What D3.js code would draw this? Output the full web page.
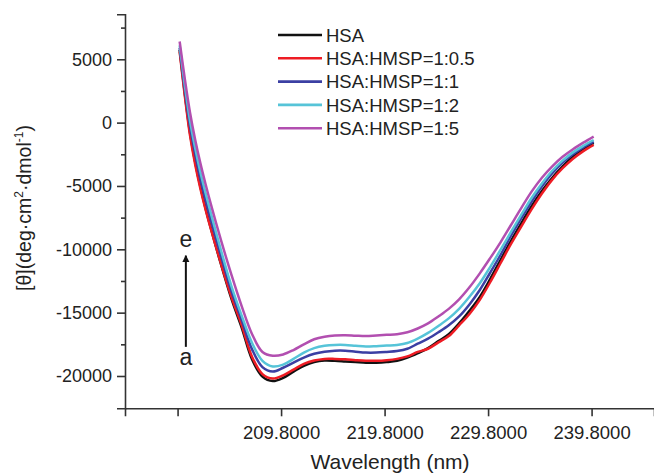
<!DOCTYPE html>
<html>
<head>
<meta charset="utf-8">
<script src="https://cdn.jsdelivr.net/npm/d3@7/dist/d3.min.js"></script>
<style>
  body { margin: 0; background: #fff; }
  svg text { font-family: "Liberation Sans", Arial, sans-serif; fill: #222; }
</style>
</head>
<body>
<div id="chart"></div>
<script>
// wavelength grid (nm)
const wavelengths = [200, 200.5, 201, 201.5, 202, 202.5, 203, 204, 205, 206, 207, 208, 209, 210,
  211, 212, 213, 214, 215, 216, 217, 218, 219, 220, 221, 222, 223, 224, 225, 226, 227, 228,
  229, 230, 231, 232, 233, 234, 235, 236, 237, 238, 239, 240]

// ellipticity values
const hsa = [5750, 2300, -800, -3100, -5050, -6750, -8300, -11200, -13900, -16200, -18700, -20050, -20400, -20150,
  -19650, -19200, -18900, -18780, -18800, -18850, -18900, -18950, -18950, -18900, -18800, -18550, -18200, -17800, -17250, -16700, -15850, -14850,
  -13750, -12350, -10850, -9350, -7950, -6600, -5400, -4350, -3450, -2700, -2100, -1600]
const ratio05 = [5600, 2100, -1000, -3300, -5200, -6850, -8350, -11150, -13750, -16000, -18500, -19850, -20200, -19950,
  -19500, -19050, -18780, -18650, -18650, -18680, -18750, -18800, -18800, -18750, -18650, -18450, -18100, -17850, -17350, -16850, -16000, -15100,
  -13990, -12600, -11100, -9600, -8210, -6850, -5600, -4500, -3600, -2850, -2250, -1760]
const ratio1 = [5900, 2600, -300, -2500, -4450, -6100, -7650, -10550, -13300, -15600, -17900, -19300, -19650, -19350,
  -18950, -18550, -18250, -18080, -18000, -18000, -18080, -18150, -18150, -18100, -18030, -17850, -17450, -17050, -16550, -16000, -15300, -14350,
  -13210, -11850, -10450, -8950, -7550, -6250, -5050, -4000, -3150, -2500, -1950, -1500]
const ratio2 = [6100, 2950, 150, -2000, -3900, -5550, -7100, -10100, -12900, -15250, -17400, -18800, -19250, -19100,
  -18650, -18150, -17800, -17620, -17550, -17550, -17620, -17680, -17650, -17600, -17550, -17400, -17050, -16600, -16050, -15450, -14700, -13750,
  -12680, -11400, -10050, -8650, -7290, -5950, -4800, -3800, -3000, -2350, -1830, -1370]
const ratio5 = [6400, 3450, 800, -1350, -3200, -4850, -6400, -9300, -12000, -14500, -16700, -18100, -18400, -18300,
  -17950, -17500, -17100, -16900, -16800, -16780, -16820, -16850, -16800, -16750, -16700, -16550, -16250, -15850, -15300, -14700, -13950, -13000,
  -11900, -10700, -9450, -8100, -6750, -5450, -4350, -3450, -2700, -2100, -1580, -1100]

const seriesNames = ['HSA', 'HSA:HMSP=1:0.5', 'HSA:HMSP=1:1', 'HSA:HMSP=1:2', 'HSA:HMSP=1:5']
const seriesValues = [hsa, ratio05, ratio1, ratio2, ratio5]
const colors = ['#111111', '#ee1c24', '#3b3fa3', '#56c4d8', '#b24fb0']

const xTicks = [199.8, 209.8, 219.8, 229.8, 239.8]
const yTicks = [-20000, -15000, -10000, -5000, 0, 5000]
const yMinorTicks = [-17500, -12500, -7500, -2500, 2500, 7500]

// arrow a -> e : [wavelength, start value, end value]
const arrowAt = [200.6, -17700, -10500]

const width = 654
const height = 475

const svg = d3.select('#chart').append('svg')
  .attr('width', width)
  .attr('height', height)

const x = d3.scaleLinear()
  .domain([194.72, 245.83])
  .range([125, 654])

const y = d3.scaleLinear()
  .domain([-22550, 8550])
  .range([408.3, 14.3])

// Axes
const xAxis = d3.axisBottom(x)
  .tickValues(xTicks)
  .tickSize(8)
  .tickPadding(6)
  .tickFormat((d, i) => i === 0 ? '' : d.toFixed(4))

const yAxis = d3.axisLeft(y)
  .tickValues(yTicks)
  .tickSize(8)
  .tickPadding(5)
  .tickFormat(d => String(d))

const gx = svg.append('g')
  .attr('transform', `translate(0, ${y.range()[0]})`)
  .call(xAxis)

const gy = svg.append('g')
  .attr('transform', `translate(${x.range()[0]}, 0)`)
  .call(yAxis)

svg.append('g')
  .attr('transform', `translate(${x.range()[0]}, 0)`)
  .call(d3.axisLeft(y).tickValues(yMinorTicks).tickSize(4).tickFormat(''))
  .call(g => g.select('.domain').remove())

svg.selectAll('.domain, .tick line')
  .attr('stroke', '#333')
  .attr('stroke-width', 1.6)

gx.selectAll('.tick text')
  .attr('font-size', '18.5px')
  .attr('dy', '0.9em')
  .style('fill', '#222')
gy.selectAll('.tick text')
  .attr('font-size', '18px')
  .style('fill', '#222')

// Axis titles
svg.append('text')
  .attr('x', 390)
  .attr('y', 469)
  .attr('text-anchor', 'middle')
  .attr('font-size', '21px')
  .text('Wavelength (nm)')

const yTitle = svg.append('text')
  .attr('transform', 'translate(31, 208) rotate(-90)')
  .attr('text-anchor', 'middle')
  .attr('font-size', '19.5px')
yTitle.append('tspan').text('[θ](deg·cm')
yTitle.append('tspan').attr('font-size', '12px').attr('dy', -8).text('2')
yTitle.append('tspan').attr('dy', 8).text('·dmol')
yTitle.append('tspan').attr('font-size', '12px').attr('dy', -8).text('-1')
yTitle.append('tspan').attr('dy', 8).text(')')

// Curves
const line = d3.line()
  .x((d, i) => x(wavelengths[i]))
  .y(d => y(d))
  .curve(d3.curveCatmullRom.alpha(0.5))

svg.append('g')
  .selectAll('path')
  .data(seriesValues)
  .join('path')
    .attr('d', line)
    .attr('fill', 'none')
    .attr('stroke', (d, i) => colors[i])
    .attr('stroke-width', 2.5)
    .attr('stroke-linejoin', 'round')

// Arrow annotation
svg.append('defs').append('marker')
    .attr('id', 'head')
    .attr('viewBox', '0 0 10 10')
    .attr('refX', 9)
    .attr('refY', 5)
    .attr('markerWidth', 3.5)
    .attr('markerHeight', 5)
    .attr('orient', 'auto')
  .append('path')
    .attr('d', 'M0,0 L10,5 L0,10 z')
    .attr('fill', '#111')

svg.append('line')
  .attr('x1', x(arrowAt[0]))
  .attr('x2', x(arrowAt[0]))
  .attr('y1', y(arrowAt[1]))
  .attr('y2', y(arrowAt[2]))
  .attr('stroke', '#111')
  .attr('stroke-width', 2)
  .attr('marker-end', 'url(#head)')

svg.append('text')
  .attr('x', x(arrowAt[0]))
  .attr('y', 247)
  .attr('text-anchor', 'middle')
  .attr('font-size', '23px')
  .text('e')

svg.append('text')
  .attr('x', x(arrowAt[0]))
  .attr('y', 365)
  .attr('text-anchor', 'middle')
  .attr('font-size', '23px')
  .text('a')

// Legend
const legend = svg.append('g')
  .attr('transform', 'translate(278, 35)')

const rows = legend.selectAll('g')
  .data(seriesNames)
  .join('g')
    .attr('transform', (d, i) => `translate(0, ${i * 23.3})`)

rows.append('line')
  .attr('x1', 0)
  .attr('x2', 44)
  .attr('stroke', (d, i) => colors[i])
  .attr('stroke-width', 2.6)

rows.append('text')
  .attr('x', 48)
  .attr('dy', '0.36em')
  .attr('font-size', '18.5px')
  .text(d => d)
</script>
</body>
</html>
